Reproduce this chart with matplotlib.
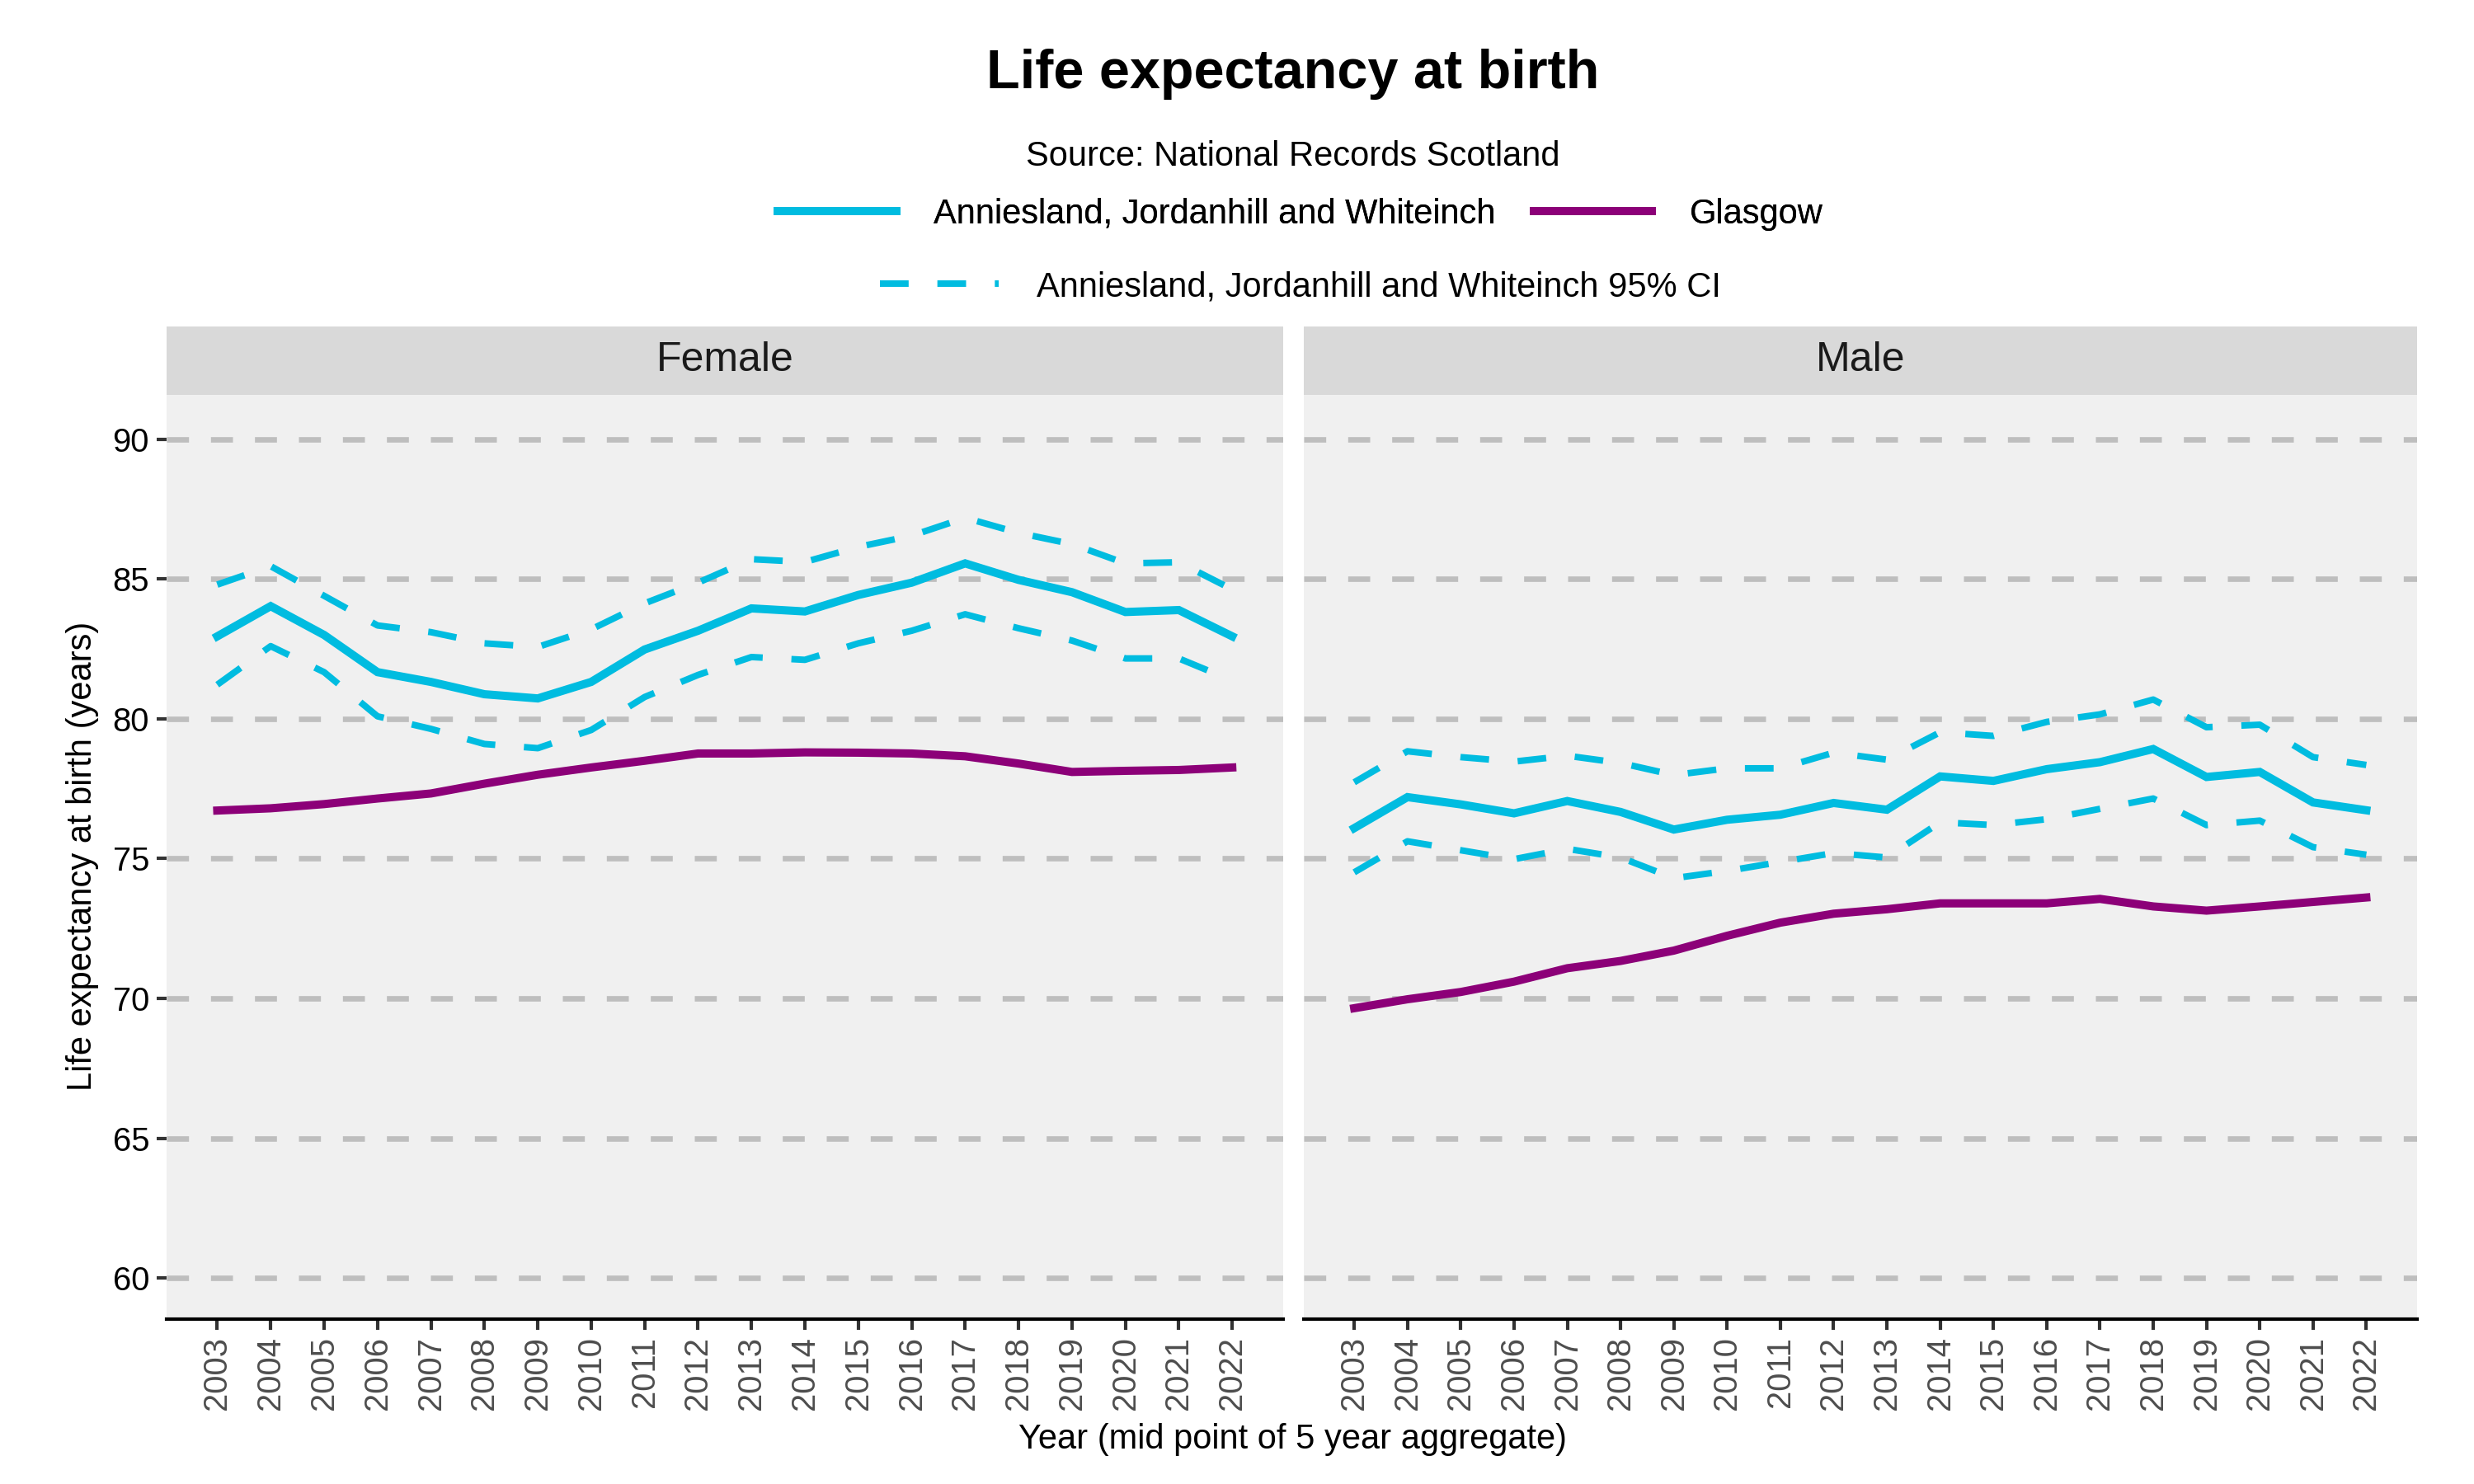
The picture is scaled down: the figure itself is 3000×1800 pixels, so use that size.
import numpy as np
import matplotlib
matplotlib.use("Agg")
import matplotlib.pyplot as plt
from matplotlib.lines import Line2D

plt.rcParams['font.family'] = ['Liberation Sans', 'DejaVu Sans']

# data
years = list(range(2003, 2023))

female_area = [82.95, 84.03, 83.0, 81.67, 81.32, 80.88, 80.73, 81.32, 82.48, 83.15,
               83.95, 83.84, 84.43, 84.87, 85.56, 84.97, 84.53, 83.82, 83.89, 82.95]
female_upper = [84.8, 85.46, 84.4, 83.34, 83.1, 82.7, 82.57, 83.2, 84.13, 84.87,
                85.71, 85.61, 86.15, 86.55, 87.19, 86.65, 86.25, 85.56, 85.6, 84.63]
female_lower = [81.22, 82.6, 81.67, 80.09, 79.64, 79.1, 78.95, 79.6, 80.78, 81.57,
                82.21, 82.11, 82.7, 83.15, 83.74, 83.24, 82.8, 82.16, 82.16, 81.37]
female_glasgow = [76.72, 76.8, 76.95, 77.15, 77.33, 77.68, 78.0, 78.26, 78.5, 78.76,
                  78.76, 78.8, 78.79, 78.76, 78.66, 78.4, 78.1, 78.14, 78.17, 78.26]

male_area = [76.09, 77.2, 76.94, 76.62, 77.06, 76.67, 76.04, 76.39, 76.57, 76.99,
             76.75, 77.94, 77.78, 78.2, 78.45, 78.92, 77.92, 78.1, 77.01, 76.73]
male_upper = [77.73, 78.84, 78.63, 78.47, 78.68, 78.42, 77.99, 78.23, 78.23, 78.79,
              78.54, 79.52, 79.39, 79.89, 80.16, 80.69, 79.7, 79.79, 78.63, 78.35]
male_lower = [74.51, 75.62, 75.3, 74.98, 75.35, 75.04, 74.3, 74.56, 74.88, 75.2,
              75.04, 76.3, 76.2, 76.41, 76.78, 77.15, 76.2, 76.36, 75.41, 75.14]
male_glasgow = [69.65, 69.97, 70.23, 70.6, 71.08, 71.34, 71.71, 72.24, 72.71, 73.03,
                73.19, 73.4, 73.4, 73.4, 73.56, 73.29, 73.14, 73.29, 73.45, 73.61]

panels = ["Female", "Male"]
area_name = "Anniesland, Jordanhill and Whiteinch"
city_name = "Glasgow"

AREA_COL = "#00BCE0"
CITY_COL = "#8C0078"
CI_STYLE = (0, (4.4, 4.4))

W, H = 1560, 936  # layout measured in reference pixels
fig = plt.figure(figsize=(10, 6), dpi=300)

def fx(px):
    return px / W

def fy(py):
    return 1 - py / H

panel_x = [(105, 809), (822, 1524)]
top, bot, strip_top = 249, 832, 206

series = {
    "Female": (female_area, female_upper, female_lower, female_glasgow),
    "Male": (male_area, male_upper, male_lower, male_glasgow),
}

for i, name in enumerate(panels):
    x0, x1 = panel_x[i]
    ax = fig.add_axes([fx(x0), fy(bot), fx(x1 - x0), (bot - top) / H])
    ax.set_facecolor("#F0F0F0")
    area, upper, lower, city = series[name]
    ax.plot(years, upper, color=AREA_COL, lw=1.9, linestyle=CI_STYLE, zorder=3)
    ax.plot(years, lower, color=AREA_COL, lw=1.9, linestyle=CI_STYLE, zorder=3)
    ax.plot(years, area, color=AREA_COL, lw=2.4, zorder=4, solid_joinstyle='miter')
    ax.plot(years, city, color=CITY_COL, lw=2.4, zorder=4, solid_joinstyle='miter')

    ax.set_xlim(2002.05, 2022.95)
    ax.set_ylim(58.53, 91.59)
    ax.set_yticks(range(60, 91, 5))
    ax.set_xticks(years)
    ax.set_xticklabels([str(y) for y in years], rotation=90, fontsize=9.6, color="#4D4D4D")
    ax.yaxis.grid(True, color="#BEBEBE", lw=1.6, linestyle=(0, (4, 4)))
    ax.xaxis.grid(False)
    ax.set_axisbelow(True)
    for s in ["top", "right", "left"]:
        ax.spines[s].set_visible(False)
    ax.spines["bottom"].set_color("black")
    ax.spines["bottom"].set_linewidth(1.0)
    ax.tick_params(axis="x", length=3, width=1.0, color="#333333", pad=2)
    if i == 0:
        ax.tick_params(axis="y", length=3, width=1.0, color="#333333", labelsize=9.6,
                       labelcolor="black", pad=2)
    else:
        ax.tick_params(axis="y", length=0, labelleft=False)

    strip = fig.add_axes([fx(x0), fy(top), fx(x1 - x0), (top - strip_top) / H])
    strip.set_facecolor("#D9D9D9")
    strip.set_xticks([])
    strip.set_yticks([])
    for s in strip.spines.values():
        s.set_visible(False)
    strip.text(0.5, 0.5, name, ha="center", va="center", fontsize=12, color="#1A1A1A",
               transform=strip.transAxes)

cx = fx(815)
fig.text(cx, fy(47), "Life expectancy at birth", ha="center", va="center",
         fontsize=16, fontweight="bold")
fig.text(cx, fy(99), "Source: National Records Scotland", ha="center", va="center",
         fontsize=10)

h1 = [Line2D([], [], color=AREA_COL, lw=2.4), Line2D([], [], color=CITY_COL, lw=2.4)]
leg1 = fig.legend(h1, [area_name, city_name], ncol=2, loc="center",
                  bbox_to_anchor=(fx(820), fy(135)), frameon=False, fontsize=10,
                  handlelength=3.45, handletextpad=1.1, columnspacing=1.1)
fig.add_artist(leg1)
h2 = [Line2D([], [], color=AREA_COL, lw=1.9, linestyle=CI_STYLE)]
fig.legend(h2, [area_name + " 95% CI"], loc="center",
           bbox_to_anchor=(fx(820), fy(181)), frameon=False, fontsize=10,
           handlelength=3.45, handletextpad=1.1)

fig.text(cx, fy(908), "Year (mid point of 5 year aggregate)", ha="center", va="center",
         fontsize=10)
fig.text(fx(52), fy(540), "Life expectancy at birth (years)", ha="center", va="center",
         rotation=90, fontsize=10)

fig.savefig("out.png", dpi=300, facecolor="white")
